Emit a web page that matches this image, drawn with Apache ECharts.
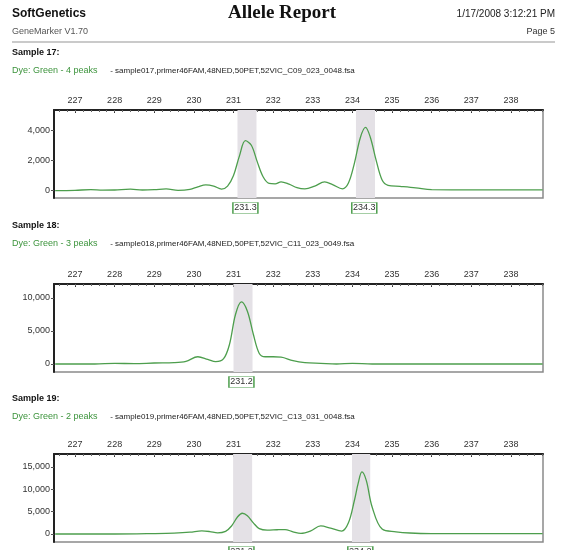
<!DOCTYPE html>
<html>
<head>
<meta charset="utf-8">
<script src="https://cdn.jsdelivr.net/npm/echarts@6/dist/echarts.min.js"></script>
<style>
html,body{margin:0;padding:0;background:#fff;}
#chart{width:562px;height:550px;}
</style>
</head>
<body>
<div id="chart"></div>
<script>
// ---- data ----
const xTickLabels = [227, 228, 229, 230, 231, 232, 233, 234, 235, 236, 237, 238];

const sample17Size   = [226.5, 227.0, 227.4, 227.7, 228.0, 228.4, 228.7, 229.0, 229.3, 229.6, 229.9, 230.1, 230.3, 230.5, 230.7, 230.85, 231.0, 231.15, 231.3, 231.45, 231.6, 231.75, 231.9, 232.05, 232.2, 232.4, 232.6, 232.8, 233.05, 233.3, 233.5, 233.75, 233.9, 234.05, 234.2, 234.33, 234.45, 234.6, 234.75, 234.9, 235.2, 235.6, 236.0, 237.0, 238.8];
const sample17Height = [0, 20, 60, 30, 40, 100, 40, 60, 110, 20, 80, 250, 380, 300, 100, 300, 1000, 2300, 3300, 3000, 1900, 900, 480, 450, 580, 430, 200, 120, 300, 580, 400, 120, 500, 1800, 3500, 4180, 3550, 2000, 700, 350, 280, 180, 60, 50, 50];
const sample17Peaks  = [231.3, 234.3];
const sample17Bins   = [[231.1, 231.58], [234.09, 234.57]];

const sample18Size   = [226.5, 227.5, 228.0, 228.5, 229.0, 229.5, 229.8, 230.1, 230.35, 230.55, 230.75, 230.9, 231.05, 231.2, 231.35, 231.5, 231.65, 231.8, 232.0, 232.2, 232.5, 232.8, 233.2, 233.6, 234.0, 234.5, 238.8];
const sample18Height = [0, 0, 100, 50, 150, 200, 400, 1100, 700, 350, 800, 3000, 7500, 9400, 8000, 4500, 1600, 1100, 1100, 1050, 500, 200, 100, 0, 100, 0, 0];
const sample18Peaks  = [231.2];
const sample18Bins   = [[231.0, 231.48]];

const sample19Size   = [226.5, 228.0, 229.0, 229.5, 229.9, 230.2, 230.4, 230.6, 230.8, 230.95, 231.1, 231.22, 231.35, 231.5, 231.65, 231.85, 232.1, 232.3, 232.5, 232.7, 232.95, 233.2, 233.45, 233.73, 233.9, 234.05, 234.15, 234.24, 234.35, 234.5, 234.75, 235.1, 235.45, 236.0, 238.8];
const sample19Height = [0, 0, 100, 200, 400, 700, 550, 250, 600, 1800, 3800, 4650, 4100, 2500, 1200, 850, 950, 1000, 500, 150, 700, 1800, 1300, 650, 2500, 7500, 11500, 13900, 12000, 6000, 1100, 500, 220, 100, 100];
const sample19Peaks  = [231.2, 234.2];
const sample19Bins   = [[230.99, 231.47], [233.99, 234.45]];

const yRanges = [[-490, 5333], [-1212, 12121], [-1790, 17910]];
const yTicks = [[0, 2000, 4000], [0, 5000, 10000], [0, 5000, 10000, 15000]];

const sampleTitles = ['Sample 17:', 'Sample 18:', 'Sample 19:'];
const dyeTitles = ['Dye: Green - 4 peaks', 'Dye: Green - 3 peaks', 'Dye: Green - 2 peaks'];
const fileTitles = [
  ' - sample017,primer46FAM,48NED,50PET,52VIC_C09_023_0048.fsa',
  ' - sample018,primer46FAM,48NED,50PET,52VIC_C11_023_0049.fsa',
  ' - sample019,primer46FAM,48NED,50PET,52VIC_C13_031_0048.fsa'
];

// ---- layout ----
const xMin = 226.47, xMax = 238.81;
const gridTops = [110, 284, 454];
const gridH = 88;
const sampleY = [54, 227, 400];
const dyeY = [72, 245, 418];
const minorTicks = [];
for (let v = 226.6; v < 238.8; v += 0.2) minorTicks.push(Math.round(v * 10) / 10);

const samples = [
  {size: sample17Size, h: sample17Height, peaks: sample17Peaks, bins: sample17Bins},
  {size: sample18Size, h: sample18Height, peaks: sample18Peaks, bins: sample18Bins},
  {size: sample19Size, h: sample19Height, peaks: sample19Peaks, bins: sample19Bins}
];

const green = '#4d9e4d';
const fontFam = '"Liberation Sans", Arial, sans-serif';

const grids = [], xAxes = [], yAxes = [], series = [], graphics = [];

samples.forEach((s, i) => {
  grids.push({left: 54, top: gridTops[i], width: 489, height: gridH, show: true,
    borderColor: '#8a8a8a', borderWidth: 1.5, backgroundColor: 'transparent'});
  xAxes.push({
    type: 'value', gridIndex: i, position: 'top', min: xMin, max: xMax,
    axisLine: {show: true, onZero: false, lineStyle: {color: '#222', width: 2}},
    axisTick: {show: true, inside: true, length: 3, customValues: xTickLabels, lineStyle: {color: '#333'}},
    axisLabel: {show: true, customValues: xTickLabels, fontSize: 9, color: '#333', margin: 5, fontFamily: fontFam},
    splitLine: {show: false}
  });
  xAxes.push({
    type: 'value', gridIndex: i, position: 'top', min: xMin, max: xMax,
    axisLine: {show: false, onZero: false},
    axisTick: {show: true, inside: true, length: 2, customValues: minorTicks, lineStyle: {color: '#666'}},
    axisLabel: {show: false},
    splitLine: {show: false}
  });
  yAxes.push({
    type: 'value', gridIndex: i, min: yRanges[i][0], max: yRanges[i][1],
    axisLine: {show: true, onZero: false, lineStyle: {color: '#222', width: 2}},
    axisTick: {show: true, length: 3, customValues: yTicks[i], lineStyle: {color: '#555'}},
    axisLabel: {show: true, customValues: yTicks[i], fontSize: 9, color: '#333', margin: 4, fontFamily: fontFam,
      formatter: v => v.toLocaleString('en-US')},
    splitLine: {show: false}
  });
  series.push({
    type: 'line', xAxisIndex: i * 2, yAxisIndex: i,
    data: s.size.map((x, k) => [x, s.h[k]]),
    smooth: 0.35, showSymbol: false, clip: true,
    lineStyle: {color: green, width: 1.3},
    markArea: {
      silent: true, itemStyle: {color: '#e4e1e6'},
      data: s.bins.map(b => [{xAxis: b[0]}, {xAxis: b[1]}])
    },
    markPoint: {
      silent: true, symbol: 'rect', symbolSize: [25, 11], symbolOffset: [0, 10],
      itemStyle: {color: '#fff', borderColor: green, borderWidth: 1},
      label: {show: true, position: 'inside', fontSize: 9, color: '#333', fontFamily: fontFam},
      data: s.peaks.map(p => ({coord: [p, yRanges[i][0]], value: p.toFixed(1)}))
    }
  });
  graphics.push({type: 'text', left: 12, top: sampleY[i] - 6,
    style: {text: sampleTitles[i], font: 'bold 9px ' + fontFam, fill: '#111'}});
  graphics.push({type: 'text', left: 12, top: dyeY[i] - 6,
    style: {text: dyeTitles[i], font: '9px ' + fontFam, fill: '#3d943d'}});
  graphics.push({type: 'text', left: 108, top: dyeY[i] - 5,
    style: {text: fileTitles[i], font: '8px "Liberation Sans Narrow", "Liberation Sans", sans-serif', fill: '#222'}});
});

graphics.push({type: 'text', left: 12, top: 8, style: {text: 'SoftGenetics', font: 'bold 12px ' + fontFam, fill: '#111'}});
graphics.push({type: 'text', left: 12, top: 27, style: {text: 'GeneMarker V1.70', font: '9px ' + fontFam, fill: '#555'}});
graphics.push({type: 'text', x: 282, y: 4, style: {text: 'Allele Report', font: 'bold 19px "Liberation Serif", "Times New Roman", serif', fill: '#111', textAlign: 'center'}});
graphics.push({type: 'text', x: 555, y: 9, style: {text: '1/17/2008 3:12:21 PM', font: '10px ' + fontFam, fill: '#222', textAlign: 'right'}});
graphics.push({type: 'text', x: 555, y: 27, style: {text: 'Page 5', font: '9px ' + fontFam, fill: '#333', textAlign: 'right'}});
graphics.push({type: 'line', shape: {x1: 12, y1: 42, x2: 555, y2: 42}, style: {stroke: '#b8b8b8', lineWidth: 1.5}});

const chart = echarts.init(document.getElementById('chart'), null, {renderer: 'canvas'});
chart.setOption({
  backgroundColor: '#fff',
  animation: false,
  grid: grids,
  xAxis: xAxes,
  yAxis: yAxes,
  series: series,
  graphic: graphics
});
</script>
</body>
</html>
